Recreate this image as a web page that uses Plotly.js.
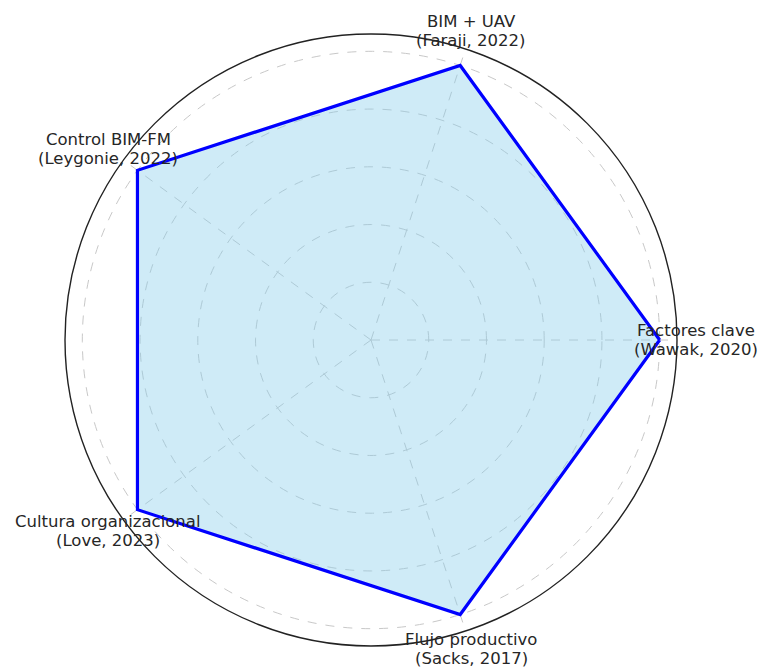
<!DOCTYPE html>
<html>
<head>
<meta charset="utf-8">
<script src="https://cdn.plot.ly/plotly-3.0.1.min.js"></script>
<style>html,body{margin:0;padding:0;background:#fff;}#chart{width:761px;height:668px;}</style>
</head>
<body>
<div id="chart"></div>
<script>
const categories = [
  "Factores clave<br>(Wawak, 2020)",
  "BIM + UAV<br>(Faraji, 2022)",
  "Control BIM-FM<br>(Leygonie, 2022)",
  "Cultura organizacional<br>(Love, 2023)",
  "Flujo productivo<br>(Sacks, 2017)"
];
const values = [5, 5, 5, 5, 5];
const gridValues = [1, 2, 3, 4, 5];

const thetaClosed = categories.concat([categories[0]]);
const rClosed = values.concat([values[0]]);

const traces = [
  {
    type: "scatterpolar",
    theta: thetaClosed,
    r: rClosed,
    mode: "lines",
    fill: "toself",
    fillcolor: "rgba(135,206,235,0.4)",
    line: {color: "#0000ff", width: 3.2},
    hoverinfo: "skip",
    showlegend: false
  }
];

// category labels placed around the circle (layout only)
const plotSize = 612;
const labelRadiusPx = 325;
const lineGap = 19;
const step = 360 / categories.length;
const annotations = [];
categories.forEach((c, i) => {
  const a = i * step * Math.PI / 180;
  const lines = c.split("<br>");
  lines.forEach((ln, j) => {
    annotations.push({
      xref: "paper", yref: "paper",
      x: 0.5 + (labelRadiusPx / plotSize) * Math.cos(a),
      y: 0.5 + (labelRadiusPx / plotSize) * Math.sin(a),
      yshift: ((lines.length - 1) / 2 - j) * lineGap,
      xanchor: "center", yanchor: "middle",
      text: ln,
      showarrow: false,
      borderpad: 0,
      font: {family: "DejaVu Sans", size: 16.5, color: "#262626"}
    });
  });
});

const layout = {
  width: 761,
  height: 668,
  margin: {l: 65, r: 84, t: 34, b: 22},
  paper_bgcolor: "#ffffff",
  showlegend: false,
  font: {family: "DejaVu Sans", size: 16, color: "#262626"},
  annotations: annotations,
  polar: {
    bgcolor: "rgba(0,0,0,0)",
    domain: {x: [0, 1], y: [0, 1]},
    radialaxis: {
      range: [0, 5.3],
      tickvals: gridValues,
      showticklabels: false,
      ticks: "",
      showline: false,
      gridcolor: "#c8c8c8",
      gridwidth: 1,
      griddash: "dash"
    },
    angularaxis: {
      type: "category",
      categoryarray: categories,
      rotation: 0,
      direction: "counterclockwise",
      showticklabels: false,
      ticks: "",
      showline: true,
      linecolor: "#222222",
      linewidth: 1.4,
      gridcolor: "#c8c8c8",
      gridwidth: 1,
      griddash: "dash"
    }
  }
};

Plotly.newPlot("chart", traces, layout, {displayModeBar: false, staticPlot: true});
</script>
</body>
</html>
